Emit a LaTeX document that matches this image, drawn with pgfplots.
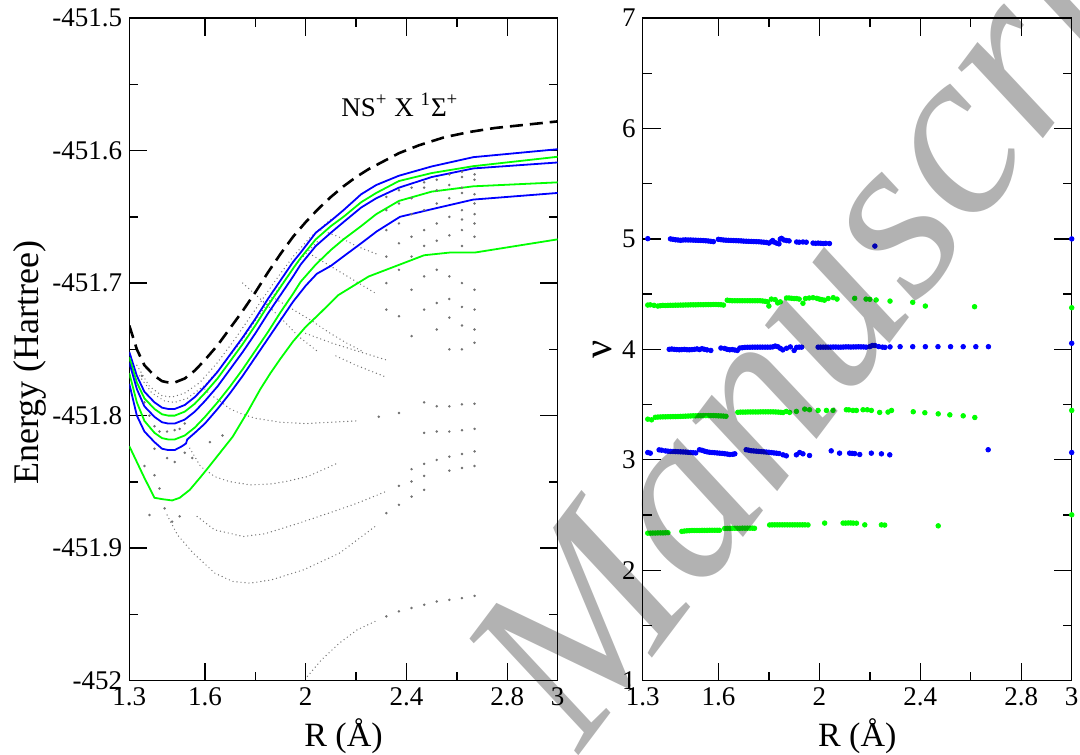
\documentclass[border=0pt]{standalone}
\usepackage{fontspec}
\setmainfont{Liberation Serif}
\newfontfamily\tms{Liberation Serif}
\usepackage{pgfplots}
\pgfplotsset{compat=1.18}
\definecolor{gcol}{RGB}{115,115,115}
\definecolor{cblue}{RGB}{0,0,255}
\definecolor{cgreen}{RGB}{0,255,0}
\definecolor{wm}{RGB}{178,178,178}
\pgfplotsset{
  common/.style={
    scale only axis, height=331.35pt, xmin=1.3, xmax=3,
    xtick={1.3,1.6,2,2.4,2.8,3}, xticklabels={1.3,1.6,2,2.4,2.8,3},
    minor xtick={1.8,2.2,2.6},
    tick align=inside, major tick length=9pt, minor tick length=4.5pt,
    every tick/.style={black, line width=0.7pt},
    axis line style={line width=0.75pt},
    every tick label/.append style={font=\tms\fontsize{13.5}{16}\selectfont},
    every axis x label/.style={at={(axis description cs:0.5,-0.1)}, anchor=base, font=\tms\fontsize{17}{20}\selectfont},
  },
  gdot/.style={color=gcol, line width=0.7pt, dash pattern=on 0pt off 2pt, line cap=round},
  gsc/.style={only marks, mark=*, mark size=0.4pt, color=gcol},
  bdot/.style={only marks, mark=*, mark size=1.15pt, color=cblue},
  gndot/.style={only marks, mark=*, mark size=1.15pt, color=cgreen},
}
\begin{document}
\begin{tikzpicture}
\path[use as bounding box] (0,0) rectangle (540pt,377pt);
% ---------------- left panel ----------------
\begin{axis}[common, at={(64.65pt,36.65pt)}, anchor=south west, width=214.2pt,
  ymin=-452, ymax=-451.5,
  ytick={-452,-451.9,-451.8,-451.7,-451.6,-451.5},
  yticklabels={-452,-451.9,-451.8,-451.7,-451.6,-451.5},
  minor ytick={-451.95,-451.85,-451.75,-451.65,-451.55},
  xlabel={R (Å)}, ylabel={Energy (Hartree)},
  every axis y label/.style={at={(axis description cs:-0.211,0.48)}, rotate=90, anchor=base, font=\tms\fontsize{18}{21}\selectfont},
]
% gray dotted curves
\addplot[gdot] coordinates {(1.33,-451.762)(1.38,-451.778)(1.43,-451.785)(1.47,-451.786)(1.52,-451.783)(1.58,-451.775)(1.65,-451.760)(1.72,-451.742)(1.80,-451.720)(1.88,-451.698)(1.95,-451.680)(2.02,-451.665)(2.10,-451.652)};
\addplot[gdot] coordinates {(1.34,-451.770)(1.39,-451.783)(1.44,-451.789)(1.48,-451.790)(1.53,-451.787)(1.60,-451.777)(1.67,-451.762)(1.74,-451.745)(1.82,-451.723)(1.90,-451.702)(1.97,-451.684)(2.05,-451.668)};
\addplot[gdot] coordinates {(1.60,-451.780)(1.62,-451.784)(1.66,-451.789)(1.70,-451.795)(1.75,-451.799)(1.80,-451.802)(1.90,-451.805)(2.00,-451.806)(2.10,-451.805)(2.20,-451.804)};
\addplot[gdot] coordinates {(1.54,-451.8246)(1.583,-451.8384)(1.639,-451.846)(1.696,-451.8497)(1.78,-451.8523)(1.865,-451.8515)(1.922,-451.8497)(2.007,-451.846)(2.12,-451.8364)};
\addplot[gdot] coordinates {(1.569,-451.8761)(1.639,-451.8862)(1.752,-451.8912)(1.837,-451.8892)(1.964,-451.8817)(2.10,-451.873)(2.204,-451.8661)(2.318,-451.8573)};
\addplot[gdot] coordinates {(1.45,-451.875)(1.491,-451.890)(1.554,-451.9038)(1.639,-451.9188)(1.71,-451.9251)(1.78,-451.9264)(1.865,-451.9239)(1.992,-451.9163)(2.134,-451.9038)(2.275,-451.8837)};
\addplot[gdot] coordinates {(2.007,-451.9967)(2.063,-451.9842)(2.134,-451.9716)(2.204,-451.9616)(2.275,-451.9553)};
\addplot[gdot] coordinates {(1.88,-451.712)(1.95,-451.720)(2.02,-451.728)(2.09,-451.737)(2.16,-451.745)(2.23,-451.752)};
\addplot[gdot] coordinates {(2.0,-451.676)(2.07,-451.684)(2.14,-451.692)(2.21,-451.700)(2.28,-451.708)};
\addplot[gdot] coordinates {(2.06,-451.660)(2.13,-451.665)(2.20,-451.672)(2.28,-451.678)};
\addplot[gdot] coordinates {(2.0,-451.738)(2.1,-451.745)(2.2,-451.751)(2.32,-451.758)};
\addplot[gdot] coordinates {(2.12,-451.755)(2.2,-451.762)(2.32,-451.771)};
\addplot[gdot] coordinates {(1.75,-451.700)(1.82,-451.712)(1.9,-451.726)(1.97,-451.740)(2.05,-451.752)};
% gray sparse dots
\addplot[gsc] coordinates {
(2.67,-451.618)(2.67,-451.622)(2.67,-451.633)(2.67,-451.640)(2.67,-451.648)(2.67,-451.655)(2.67,-451.665)(2.67,-451.705)(2.67,-451.720)(2.67,-451.735)(2.67,-451.745)(2.67,-451.791)(2.67,-451.810)(2.67,-451.827)(2.67,-451.838)(2.67,-451.936)
(2.62,-451.616)(2.62,-451.620)(2.62,-451.628)(2.62,-451.632)(2.62,-451.645)(2.62,-451.652)(2.62,-451.660)(2.62,-451.672)(2.62,-451.700)(2.62,-451.718)(2.62,-451.732)(2.62,-451.750)(2.62,-451.7915)(2.62,-451.811)(2.62,-451.829)(2.62,-451.8395)(2.62,-451.9377)
(2.57,-451.618)(2.57,-451.626)(2.57,-451.636)(2.57,-451.650)(2.57,-451.664)(2.57,-451.695)(2.57,-451.712)(2.57,-451.726)(2.57,-451.750)(2.57,-451.793)(2.57,-451.812)(2.57,-451.831)(2.57,-451.8415)(2.57,-451.939)
(2.52,-451.622)(2.52,-451.630)(2.52,-451.640)(2.52,-451.655)(2.52,-451.668)(2.52,-451.690)(2.52,-451.715)(2.52,-451.735)(2.52,-451.793)(2.52,-451.812)(2.52,-451.8334)(2.52,-451.9402)
(2.47,-451.624)(2.47,-451.628)(2.47,-451.645)(2.47,-451.660)(2.47,-451.672)(2.47,-451.695)(2.47,-451.720)(2.47,-451.790)(2.47,-451.813)(2.47,-451.8364)(2.47,-451.8455)(2.47,-451.856)(2.47,-451.9427)
(2.42,-451.628)(2.42,-451.636)(2.42,-451.648)(2.42,-451.665)(2.42,-451.680)(2.42,-451.705)(2.42,-451.740)(2.42,-451.8404)(2.42,-451.8497)(2.42,-451.8611)(2.42,-451.9452)
(2.37,-451.630)(2.37,-451.640)(2.37,-451.655)(2.37,-451.670)(2.37,-451.690)(2.37,-451.725)(2.37,-451.798)(2.37,-451.853)(2.37,-451.8673)(2.37,-451.9477)
(2.32,-451.635)(2.32,-451.645)(2.32,-451.660)(2.32,-451.680)(2.32,-451.700)(2.32,-451.720)(2.29,-451.8008)(2.32,-451.8736)(2.32,-451.9515)
(1.36,-451.838)(1.40,-451.845)(1.42,-451.855)(1.38,-451.875)(1.44,-451.870)(1.47,-451.880)(1.50,-451.876)(1.52,-451.828)(1.55,-451.832)(1.62,-451.820)(1.67,-451.815)
(1.35,-451.770)(1.36,-451.790)(1.38,-451.800)(1.40,-451.808)(1.42,-451.812)(1.45,-451.812)(1.48,-451.811)(1.50,-451.810)(1.52,-451.806)(1.40,-451.825)(1.45,-451.832)(1.48,-451.835)
};
% colored curves
\addplot[black, line width=1.3pt, dash pattern=on 6.5pt off 3.5pt] coordinates {(1.30,-451.732)(1.33,-451.750)(1.36,-451.762)(1.40,-451.770)(1.43,-451.774)(1.455,-451.775)(1.48,-451.775)(1.52,-451.772)(1.56,-451.766)(1.60,-451.758)(1.65,-451.747)(1.70,-451.734)(1.75,-451.721)(1.80,-451.707)(1.85,-451.692)(1.90,-451.678)(1.95,-451.665)(2.00,-451.654)(2.05,-451.644)(2.10,-451.635)(2.15,-451.627)(2.20,-451.620)(2.25,-451.614)(2.30,-451.609)(2.37,-451.602)(2.45,-451.596)(2.55,-451.590)(2.65,-451.586)(2.75,-451.583)(2.85,-451.581)(3.00,-451.578)};
\addplot[cblue, line width=0.9pt] coordinates {(1.30,-451.752)(1.33,-451.770)(1.36,-451.782)(1.40,-451.790)(1.43,-451.794)(1.455,-451.795)(1.48,-451.795)(1.52,-451.792)(1.56,-451.786)(1.60,-451.778)(1.65,-451.767)(1.70,-451.754)(1.75,-451.741)(1.80,-451.727)(1.85,-451.712)(1.90,-451.698)(1.95,-451.684)(1.98,-451.677)(2.04,-451.662)(2.10,-451.653)(2.15,-451.645)(2.22,-451.633)(2.28,-451.626)(2.37,-451.619)(2.50,-451.612)(2.665,-451.605)(3.00,-451.599)};
\addplot[cgreen, line width=0.9pt] coordinates {(1.30,-451.756)(1.33,-451.775)(1.36,-451.787)(1.40,-451.795)(1.43,-451.799)(1.455,-451.800)(1.48,-451.800)(1.52,-451.797)(1.56,-451.791)(1.60,-451.783)(1.65,-451.772)(1.70,-451.759)(1.75,-451.746)(1.80,-451.732)(1.85,-451.717)(1.90,-451.703)(1.95,-451.689)(1.98,-451.681)(2.04,-451.667)(2.10,-451.657)(2.15,-451.650)(2.22,-451.639)(2.28,-451.632)(2.37,-451.623)(2.50,-451.617)(2.665,-451.6118)(3.00,-451.6047)};
\addplot[cblue, line width=0.9pt] coordinates {(1.30,-451.760)(1.33,-451.780)(1.36,-451.793)(1.40,-451.801)(1.43,-451.805)(1.455,-451.806)(1.48,-451.806)(1.52,-451.803)(1.56,-451.797)(1.60,-451.789)(1.65,-451.778)(1.70,-451.765)(1.75,-451.752)(1.80,-451.738)(1.85,-451.723)(1.90,-451.709)(1.95,-451.695)(1.98,-451.686)(2.04,-451.672)(2.10,-451.662)(2.15,-451.654)(2.22,-451.643)(2.28,-451.636)(2.37,-451.628)(2.50,-451.620)(2.665,-451.6135)(3.00,-451.609)};
\addplot[cgreen, line width=0.9pt] coordinates {(1.30,-451.768)(1.33,-451.790)(1.36,-451.804)(1.40,-451.813)(1.43,-451.817)(1.455,-451.818)(1.48,-451.818)(1.52,-451.815)(1.56,-451.809)(1.60,-451.801)(1.65,-451.790)(1.70,-451.778)(1.75,-451.765)(1.80,-451.751)(1.85,-451.737)(1.90,-451.722)(1.95,-451.708)(1.98,-451.699)(2.04,-451.686)(2.10,-451.675)(2.15,-451.667)(2.22,-451.657)(2.28,-451.648)(2.37,-451.638)(2.50,-451.631)(2.665,-451.627)(3.00,-451.624)};
\addplot[cblue, line width=0.9pt] coordinates {(1.30,-451.776)(1.33,-451.800)(1.36,-451.812)(1.40,-451.820)(1.43,-451.825)(1.455,-451.826)(1.48,-451.826)(1.51,-451.823)(1.525,-451.821)(1.53,-451.818)(1.56,-451.813)(1.60,-451.806)(1.65,-451.795)(1.70,-451.783)(1.75,-451.770)(1.80,-451.756)(1.85,-451.742)(1.90,-451.728)(1.95,-451.714)(2.00,-451.702)(2.044,-451.693)(2.10,-451.687)(2.149,-451.680)(2.22,-451.670)(2.282,-451.661)(2.374,-451.650)(2.506,-451.644)(2.665,-451.637)(3.00,-451.632)};
\addplot[cgreen, line width=0.9pt] coordinates {(1.30,-451.823)(1.33,-451.835)(1.36,-451.847)(1.40,-451.862)(1.43,-451.863)(1.47,-451.864)(1.50,-451.862)(1.54,-451.856)(1.58,-451.847)(1.61,-451.840)(1.66,-451.828)(1.71,-451.816)(1.77,-451.797)(1.82,-451.780)(1.86,-451.768)(1.90,-451.757)(1.95,-451.744)(2.00,-451.733)(2.05,-451.724)(2.13,-451.709)(2.25,-451.695)(2.47,-451.679)(2.57,-451.677)(2.67,-451.677)(3.00,-451.667)};
\node[anchor=base west, inner sep=0pt, font=\tms\fontsize{13.5}{16}\selectfont] at (axis cs:2.14,-451.574) {NS\textsuperscript{+} X \textsuperscript{1}Σ\textsuperscript{+}};
\end{axis}
% ---------------- right panel ----------------
\begin{axis}[common, at={(321.35pt,36.65pt)}, anchor=south west, width=214.5pt,
  ymin=1, ymax=7, ytick={1,2,3,4,5,6,7}, yticklabels={1,2,3,4,5,6,7},
  minor ytick={1.5,2.5,3.5,4.5,5.5,6.5}, clip=false,
  xlabel={R (Å)}, ylabel={ν},
  every axis y label/.style={at={(axis description cs:-0.0716,0.5)}, rotate=90, anchor=base, font=\tms\fontsize{20}{22}\selectfont},
]
% blue ~5
\addplot[bdot] coordinates {(1.32,5.002)
(1.41,5.000)(1.42,4.996)(1.43,4.992)(1.44,4.990)(1.45,4.987)(1.46,4.990)(1.47,4.991)(1.48,4.990)(1.49,4.990)(1.50,4.989)(1.51,4.988)(1.52,4.987)(1.53,4.986)(1.54,4.985)(1.55,4.983)(1.56,4.981)(1.57,4.978)(1.58,4.975)
(1.60,4.996)(1.61,4.993)(1.62,4.990)(1.63,4.988)(1.64,4.987)(1.65,4.986)(1.66,4.985)(1.67,4.984)(1.68,4.983)(1.69,4.982)(1.70,4.980)(1.71,4.979)(1.72,4.978)(1.73,4.977)(1.74,4.976)(1.75,4.975)(1.76,4.974)(1.77,4.972)(1.78,4.970)(1.79,4.968)(1.80,4.962)
(1.81,4.975)(1.815,4.985)(1.82,4.972)(1.83,4.962)(1.84,4.955)(1.845,4.998)(1.85,5.005)(1.86,4.990)(1.87,4.985)(1.88,4.982)
(1.91,4.972)(1.92,4.970)(1.935,4.972)(1.948,4.970)
(1.975,4.962)(1.985,4.960)(1.995,4.962)(2.005,4.960)(2.015,4.958)(2.025,4.960)(2.04,4.958)
(2.22,4.935)(3.00,5.00)};
% green ~4.4
\addplot[gndot] coordinates {(1.32,4.401)(1.33,4.403)(1.345,4.398)(1.36,4.392)(1.37,4.395)(1.38,4.398)(1.39,4.397)(1.40,4.398)(1.41,4.399)(1.42,4.399)(1.43,4.400)(1.44,4.400)(1.45,4.401)(1.46,4.401)(1.47,4.402)(1.48,4.402)(1.49,4.403)(1.50,4.403)(1.51,4.403)(1.52,4.404)(1.53,4.404)(1.54,4.404)(1.55,4.405)(1.56,4.405)(1.57,4.405)(1.58,4.406)(1.59,4.406)(1.60,4.405)(1.61,4.404)(1.62,4.401)
(1.635,4.445)(1.645,4.442)(1.655,4.440)(1.665,4.440)(1.675,4.440)(1.685,4.440)(1.695,4.440)(1.705,4.440)(1.715,4.440)(1.725,4.440)(1.735,4.440)(1.745,4.440)(1.755,4.440)(1.765,4.440)(1.775,4.438)(1.785,4.435)(1.795,4.430)(1.80,4.392)
(1.81,4.455)(1.825,4.450)(1.835,4.420)(1.845,4.430)(1.87,4.465)(1.88,4.465)(1.89,4.462)(1.90,4.460)(1.91,4.460)(1.92,4.455)(1.935,4.417)(1.945,4.460)(1.96,4.465)(1.975,4.468)(1.99,4.462)(2.00,4.455)(2.01,4.450)(2.02,4.445)(2.035,4.460)(2.055,4.468)(2.07,4.455)
(2.14,4.462)(2.185,4.455)(2.20,4.453)(2.225,4.447)(2.28,4.437)(2.37,4.426)(2.42,4.392)(2.615,4.386)(3.00,4.377)};
% blue ~4
\addplot[bdot] coordinates {(1.405,4.000)(1.415,4.003)(1.425,4.000)(1.435,3.998)(1.445,3.996)(1.455,3.998)(1.465,4.000)(1.475,3.997)(1.485,3.996)(1.495,3.998)(1.505,4.000)(1.515,4.004)(1.525,3.998)(1.535,4.006)(1.545,4.000)(1.555,3.995)(1.57,3.990)
(1.61,4.012)(1.625,4.008)(1.635,4.000)(1.645,3.996)(1.655,3.998)(1.665,3.994)(1.675,3.990)(1.685,4.012)(1.695,4.015)(1.705,4.018)(1.715,4.019)(1.725,4.019)(1.735,4.020)(1.745,4.020)(1.755,4.020)(1.765,4.020)(1.775,4.020)(1.785,4.020)(1.795,4.020)(1.805,4.020)(1.815,4.022)(1.825,4.030)(1.835,4.024)(1.845,4.010)(1.855,3.995)(1.87,4.010)(1.885,4.022)(1.90,3.990)(1.91,4.018)(1.92,4.020)(1.93,4.020)
(1.995,4.020)(2.005,4.020)(2.015,4.020)(2.025,4.020)(2.035,4.020)(2.045,4.020)(2.055,4.021)(2.065,4.021)(2.075,4.020)(2.085,4.020)(2.095,4.021)(2.105,4.022)(2.115,4.022)(2.125,4.021)(2.135,4.022)(2.145,4.022)(2.155,4.023)(2.165,4.022)(2.175,4.022)(2.185,4.020)(2.20,4.025)(2.21,4.035)(2.22,4.035)(2.235,4.025)(2.25,4.020)(2.26,4.018)(2.28,4.022)
(2.32,4.024)(2.37,4.024)(2.42,4.024)(2.47,4.024)(2.52,4.024)(2.57,4.024)(2.62,4.024)(2.67,4.024)(3.00,4.055)};
% green ~3.4
\addplot[gndot] coordinates {(1.32,3.368)(1.335,3.362)(1.35,3.385)(1.36,3.387)(1.37,3.388)(1.38,3.389)(1.39,3.389)(1.40,3.390)(1.41,3.390)(1.42,3.391)(1.43,3.391)(1.44,3.392)(1.45,3.393)(1.46,3.394)(1.47,3.395)(1.48,3.396)(1.49,3.397)(1.50,3.398)(1.51,3.398)(1.52,3.399)(1.53,3.399)(1.54,3.400)(1.55,3.400)(1.56,3.400)(1.57,3.400)(1.58,3.400)(1.59,3.399)(1.60,3.398)(1.61,3.397)(1.62,3.396)(1.63,3.394)
(1.677,3.430)(1.687,3.432)(1.697,3.432)(1.707,3.432)(1.717,3.433)(1.727,3.433)(1.737,3.433)(1.747,3.433)(1.757,3.433)(1.767,3.434)(1.777,3.434)(1.787,3.434)(1.797,3.434)(1.807,3.434)(1.817,3.434)(1.827,3.433)(1.837,3.432)(1.847,3.430)(1.856,3.428)
(1.869,3.438)(1.882,3.429)(1.909,3.438)(1.942,3.459)(1.961,3.453)(1.995,3.447)(2.028,3.447)(2.054,3.447)(2.107,3.453)(2.117,3.452)(2.133,3.447)(2.147,3.447)(2.173,3.453)(2.19,3.453)(2.206,3.447)(2.239,3.429)(2.272,3.432)(2.286,3.447)(2.372,3.435)(2.418,3.426)(2.471,3.416)(2.517,3.407)(2.57,3.398)(2.616,3.383)(3.00,3.447)};
% blue ~3.07
\addplot[bdot] coordinates {(1.32,3.066)(1.33,3.060)(1.365,3.090)(1.375,3.087)(1.39,3.081)(1.40,3.078)(1.41,3.076)(1.42,3.075)(1.43,3.074)(1.44,3.073)(1.45,3.072)(1.46,3.071)(1.47,3.070)(1.48,3.068)(1.49,3.066)(1.50,3.064)(1.51,3.062)(1.525,3.091)(1.535,3.086)(1.545,3.078)(1.555,3.072)(1.565,3.068)(1.575,3.066)(1.585,3.064)(1.595,3.062)(1.605,3.060)(1.615,3.058)(1.625,3.055)(1.635,3.052)(1.645,3.048)(1.657,3.050)(1.665,3.054)
(1.71,3.091)(1.72,3.087)(1.73,3.082)(1.74,3.080)(1.75,3.078)(1.76,3.076)(1.77,3.074)(1.78,3.072)(1.79,3.070)(1.80,3.068)(1.81,3.065)(1.82,3.062)(1.83,3.060)(1.84,3.057)(1.856,3.045)(1.869,3.036)(1.909,3.045)(1.922,3.066)(1.935,3.054)(1.961,3.039)
(2.047,3.081)(2.08,3.060)(2.12,3.060)(2.13,3.058)(2.14,3.056)(2.16,3.048)(2.206,3.060)(2.246,3.054)(2.279,3.045)(2.669,3.091)(3.00,3.066)};
% green ~2.35
\addplot[gndot] coordinates {(1.32,2.336)(1.33,2.336)(1.34,2.337)(1.35,2.337)(1.36,2.338)(1.37,2.338)(1.38,2.338)(1.39,2.339)(1.40,2.340)
(1.455,2.352)(1.465,2.355)(1.475,2.357)(1.485,2.358)(1.495,2.360)(1.505,2.360)(1.515,2.360)(1.525,2.360)(1.535,2.361)(1.545,2.361)(1.555,2.361)(1.565,2.362)(1.575,2.362)(1.585,2.362)(1.595,2.362)(1.604,2.362)
(1.625,2.378)(1.635,2.379)(1.645,2.379)(1.655,2.380)(1.665,2.380)(1.675,2.380)(1.685,2.380)(1.695,2.381)(1.705,2.381)(1.715,2.381)(1.725,2.381)(1.735,2.381)(1.743,2.380)
(1.803,2.410)(1.813,2.411)(1.823,2.411)(1.833,2.411)(1.843,2.411)(1.853,2.411)(1.863,2.411)(1.873,2.411)(1.883,2.411)(1.893,2.411)(1.903,2.411)(1.913,2.411)(1.923,2.411)(1.933,2.411)(1.943,2.411)(1.955,2.410)
(2.021,2.427)(2.094,2.427)(2.104,2.427)(2.114,2.428)(2.124,2.428)(2.134,2.427)(2.147,2.426)(2.18,2.411)(2.246,2.411)(2.259,2.409)(2.471,2.402)(3.00,2.502)};
\end{axis}
% watermark
\begin{scope}[blend mode=multiply]
\node[rotate=53, anchor=base west, inner sep=0pt, text=wm, font=\tms\itshape\fontsize{120}{120}\selectfont] at (290pt,0pt) {Manuscript};
\end{scope}
\end{tikzpicture}
\end{document}
